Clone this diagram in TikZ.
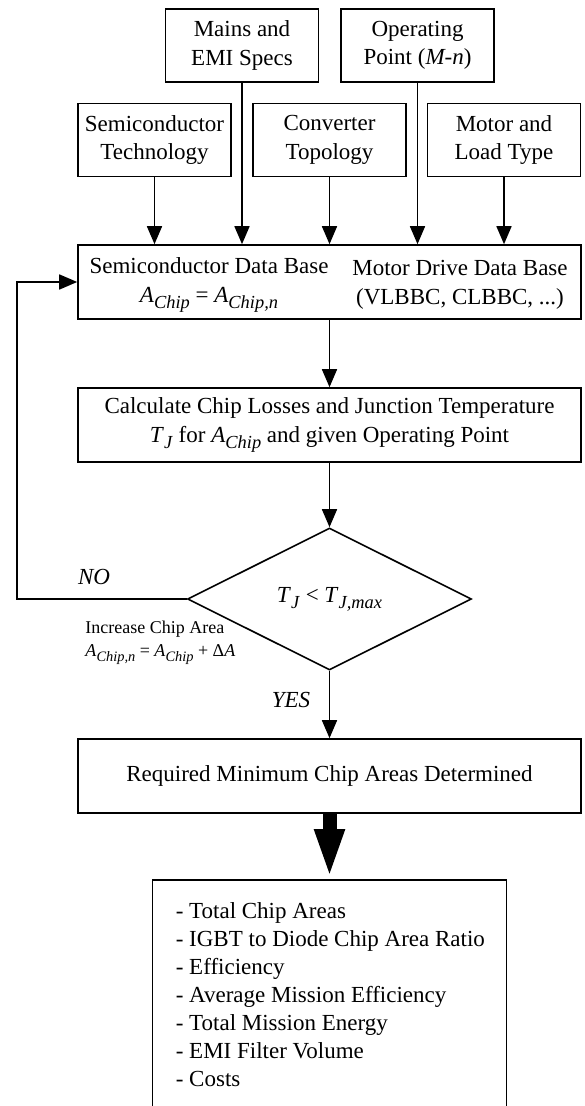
\documentclass[tikz,border=0pt]{standalone}
\usepackage{fontspec}
\setmainfont{Liberation Serif}
\usepackage{graphicx}
\usepackage{tikz}
\usetikzlibrary{arrows.meta}
\usetikzlibrary{shapes.geometric}

\newcommand{\lsub}[1]{\raisebox{-0.27em}{\scalebox{0.8}{\textit{#1}}}}
\newcommand{\Asub}[1]{\textit{A}\lsub{#1}}
\newcommand{\Tsub}[1]{\textit{T}\lsub{#1}}

\begin{document}
\begin{tikzpicture}[x=0.5pt,y=-0.5pt,line width=0.8pt,
    every node/.style={font=\fontsize{11.5}{14.3}\selectfont},
    blk/.style={draw,align=center,inner sep=0pt,minimum width=76.5pt,minimum height=36.5pt},
    wide/.style={draw,align=center,inner sep=0pt,minimum width=251.5pt,minimum height=37pt},
    arr/.style={-{Triangle[length=9pt,width=7.5pt]}}]
    \useasboundingbox (0,0) rectangle (584,1106);
    \clip (0,0) rectangle (584,1106);

    % inputs
    \node [blk] (mains) at (242,45.5) {Mains and\\EMI Specs};
    \node [blk] (opp)   at (417.5,45.5) {Operating\\Point (\textit{M-n})};
    \node [blk] (semi)  at (154.5,140) {Semiconductor\\Technology};
    \node [blk] (conv)  at (329.5,140) {Converter\\Topology};
    \node [blk] (motor) at (504,140) {Motor and\\Load Type};

    % data bases
    \node [wide] (db) at (329.5,282) {};
    \node [align=center] (sdb) at (209,285) {Semiconductor Data Base\\\Asub{Chip} = \Asub{Chip,n}};
    \node [align=center] (mdb) at (460,285) {Motor Drive Data Base\\(VLBBC, CLBBC, ...)};

    \node [wide] (calc) at (329.5,425) {Calculate Chip Losses and Junction Temperature\\\Tsub{J} for \Asub{Chip} and given Operating Point};
    \node [draw,diamond,inner sep=0pt,minimum width=142pt,minimum height=71pt] (chk) at (329.5,599) {\Tsub{J} < \Tsub{J,max}};
    \node [wide] (req) at (329.5,776) {Required Minimum Chip Areas Determined};

    % results
    \node [draw,anchor=north,minimum width=177pt,minimum height=116.5pt] (res) at (329.5,879) {};
    \node [anchor=north west,inner sep=0pt,font=\fontsize{11.5}{14}\selectfont] (items) at (175,898)
        {\begin{tabular}{@{}l@{}}
            - Total Chip Areas\\
            - IGBT to Diode Chip Area Ratio\\
            - Efficiency\\
            - Average Mission Efficiency\\
            - Total Mission Energy\\
            - EMI Filter Volume\\
            - Costs
        \end{tabular}};

    % labels
    \node [font=\fontsize{11.5}{14.3}\selectfont\itshape] (no) at (94,577) {NO};
    \node [font=\fontsize{11.5}{14.3}\selectfont\itshape] (yes) at (291,700) {YES};
    \node [font=\fontsize{9}{11.5}\selectfont,align=left,anchor=west] (incr) at (78,643)
        {Increase Chip Area\\\Asub{Chip,n} = \Asub{Chip} + Δ\textit{A}};

    \foreach \n in {semi,mains,conv,opp,motor}
        \draw [arr] (\n.south) -- (\n.south |- db.north);
    \draw [arr] (db) -- (calc);
    \draw [arr] (calc) -- (chk);
    \draw [arr] (chk) -- (req);
    \coordinate (fb) at (17,599);
    \draw [arr] (chk.west) -- (fb) |- (db.west);
    \draw [line width=7pt,-{Triangle[length=25pt,width=13.5pt]}] (req) -- (res);
\end{tikzpicture}
\end{document}
